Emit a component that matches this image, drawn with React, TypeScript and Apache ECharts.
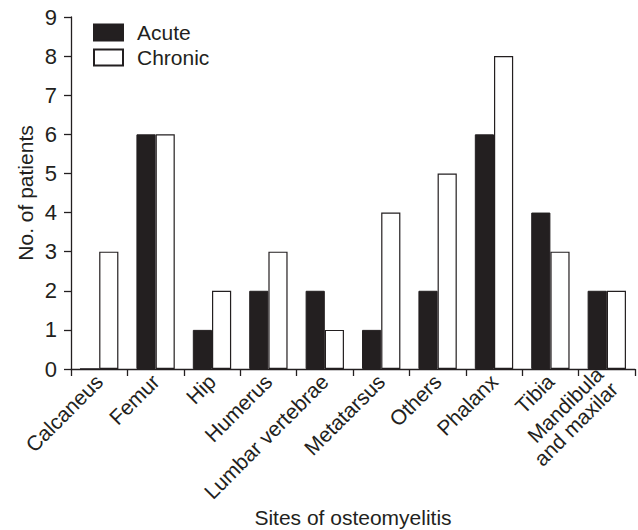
import React, { useEffect, useRef } from "react";
import * as echarts from "echarts";

const categories = [
  "Calcaneus",
  "Femur",
  "Hip",
  "Humerus",
  "Lumbar vertebrae",
  "Metatarsus",
  "Others",
  "Phalanx",
  "Tibia",
  "Mandibula\nand maxilar",
];
const acute = [0, 6, 1, 2, 2, 1, 2, 6, 4, 2];
const chronic = [3, 6, 2, 3, 1, 4, 5, 8, 3, 2];
const yTicks = { min: 0, max: 9, interval: 1 };

const INK = "#231f20";
const FONT = "'Liberation Sans', Arial, Helvetica, sans-serif";
const XLAB = 21;

export default function App() {
  const ref = useRef<HTMLDivElement>(null);
  useEffect(() => {
    if (!ref.current) return;
    const chart = echarts.init(ref.current, undefined, { renderer: "svg" });
    const xData = categories.map((c) =>
      c.indexOf("\n") >= 0
        ? { value: c, textStyle: { padding: [XLAB, 0, 0, 0] } }
        : c
    );
    chart.setOption({
      animation: false,
      textStyle: { fontFamily: FONT, color: INK },
      grid: {
        left: 71,
        right: 3,
        top: 17,
        bottom: 161,
        containLabel: false,
        outerBoundsMode: "none",
      },
      legend: {
        left: 88,
        top: 17,
        orient: "vertical",
        itemWidth: 29,
        itemHeight: 16,
        itemGap: 4,
        icon: "rect",
        textStyle: {
          fontFamily: FONT,
          fontSize: 21,
          lineHeight: 20,
          color: INK,
          padding: [0, 0, 0, 9],
        },
        data: ["Acute", "Chronic"],
      },
      xAxis: {
        type: "category",
        data: xData,
        name: "Sites of osteomyelitis",
        nameLocation: "middle",
        nameGap: 138,
        nameMoveOverlap: false,
        nameTextStyle: { fontFamily: FONT, fontSize: 21, color: INK },
        axisLine: { lineStyle: { color: INK, width: 1.3 } },
        axisTick: { show: true, length: 7, lineStyle: { color: INK, width: 1.3 } },
        axisLabel: {
          rotate: 45,
          margin: 9,
          fontFamily: FONT,
          fontSize: XLAB,
          color: INK,
          lineHeight: XLAB,
          interval: 0,
        },
      },
      yAxis: {
        type: "value",
        min: yTicks.min,
        max: yTicks.max,
        interval: yTicks.interval,
        name: "No. of patients",
        nameLocation: "middle",
        nameGap: 35,
        nameMoveOverlap: false,
        nameTextStyle: { fontFamily: FONT, fontSize: 21, color: INK },
        splitLine: { show: false },
        axisLine: { show: true, lineStyle: { color: INK, width: 1.3 } },
        axisTick: { show: true, length: 7, lineStyle: { color: INK, width: 1.3 } },
        axisLabel: { margin: 14, fontFamily: FONT, fontSize: 22, color: INK },
      },
      series: [
        {
          name: "Acute",
          type: "bar",
          data: acute,
          barGap: "0%",
          barCategoryGap: "32%",
          itemStyle: { color: INK, borderColor: INK, borderWidth: 1 },
        },
        {
          name: "Chronic",
          type: "bar",
          data: chronic,
          barGap: "0%",
          barCategoryGap: "32%",
          itemStyle: { color: "#ffffff", borderColor: INK, borderWidth: 1.2 },
        },
      ],
    });
    return () => chart.dispose();
  }, []);
  return (
    <div
      ref={ref}
      style={{ position: "fixed", left: 0, top: 0, width: 638, height: 530, background: "#fff" }}
    />
  );
}
